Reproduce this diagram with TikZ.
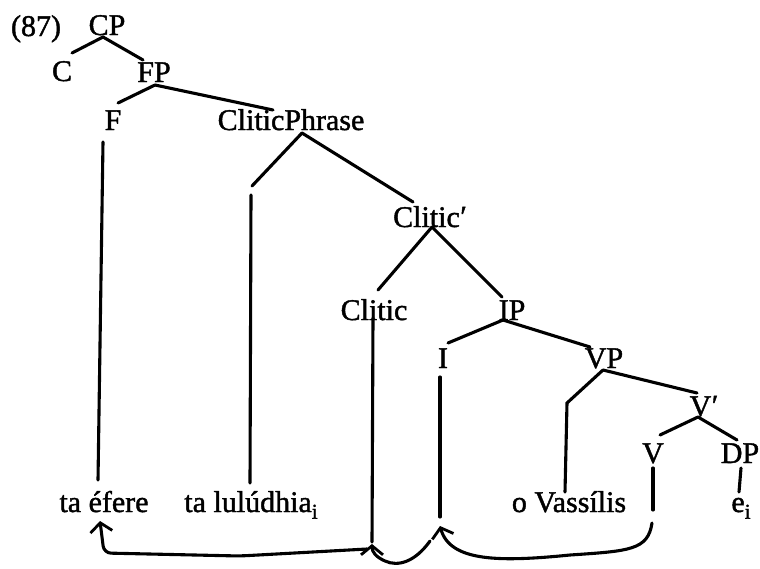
\documentclass[tikz,border=0pt]{standalone}
\usepackage{fontspec}
\setmainfont{Liberation Serif}[BoldFont={Liberation Serif},BoldFeatures={FakeBold=1.4}]
\usetikzlibrary{arrows.meta}
\newcommand{\mysubi}{\raisebox{-0.22em}{\fontsize{21}{21}\selectfont i}}
\newcommand{\myprime}{\kern0.5pt\raisebox{0.02em}{′}}
\begin{document}
\begin{tikzpicture}[x=1pt,y=-1pt,
  lbl/.style={anchor=base, inner sep=0pt, font=\fontsize{30}{34}\selectfont\bfseries},
  br/.style={line width=3.1pt, line cap=round},
  mv/.style={line width=3.1pt, line cap=round, -{Straight Barb[length=9pt,width=22pt,line width=2.8pt]}}]
\useasboundingbox (0,0) rectangle (760,568);
% labels
\node[lbl] (n87) at (36,36) {(87)};
\node[lbl] (CP) at (107,35) {CP};
\node[lbl] (C) at (62,81) {C};
\node[lbl] (FP) at (154,82) {FP};
\node[lbl] (F) at (113,130) {F};
\node[lbl] (ClP) at (291,130) {CliticPhrase};
\node[lbl] (Clb) at (430,227) {Clitic\myprime};
\node[lbl] (Cl) at (374,320) {Clitic};
\node[lbl] (IP) at (512,320) {IP};
\node[lbl] (I) at (443,368) {I};
\node[lbl] (VP) at (604,368) {VP};
\node[lbl] (Vb) at (704,416) {V\myprime};
\node[lbl] (V) at (653,463) {V};
\node[lbl] (DP) at (740,463) {DP};
\node[lbl] (w1) at (104,512) {ta éfere};
\node[lbl] (w2) at (251,512) {ta lulúdhia\mysubi};
\node[lbl] (w3) at (569,512) {o Vassílis};
\node[lbl] (w4) at (741,512) {e\mysubi};
% branch points
\coordinate (CPb) at (103,37);
\coordinate (Ct) at (72,53);
\coordinate (FPt) at (143,60);
\coordinate (FPb) at (155,85);
\coordinate (Ft) at (118,103);
\coordinate (ClPt) at (273,110);
\coordinate (ClPb) at (302,133);
\coordinate (Spt) at (252,186);
\coordinate (Clbt) at (413,202);
\coordinate (Clbb) at (432,227);
\coordinate (Clt) at (378,290);
\coordinate (IPt) at (502,297);
\coordinate (IPb) at (503,320);
\coordinate (It) at (448,343);
\coordinate (VPt) at (590,347);
\coordinate (VPb) at (603,370);
\coordinate (VSp) at (567,403);
\coordinate (VSpb) at (565,492);
\coordinate (Vbt) at (697,393);
\coordinate (Vbb) at (698,417);
\coordinate (Vt) at (660,435);
\coordinate (DPt) at (737,440);
% tree
\draw[br] (CPb) -- (Ct);
\draw[br] (CPb) -- (FPt);
\draw[br] (FPb) -- (Ft);
\draw[br] (FPb) -- (ClPt);
\draw[br] (ClPb) -- (Spt);
\draw[br] (ClPb) -- (Clbt);
\draw[br] (Clbb) -- (Clt);
\draw[br] (Clbb) -- (IPt);
\draw[br] (IPb) -- (It);
\draw[br] (IPb) -- (VPt);
\draw[br] (VPb) -- (VSp) -- (VSpb);
\draw[br] (VPb) -- (Vbt);
\draw[br] (Vbb) -- (Vt);
\draw[br] (Vbb) -- (DPt);
% vertical lines to the words
\coordinate (Fv1) at (103,142);
\coordinate (Fv2) at (98,480);
\coordinate (Sv1) at (251,195);
\coordinate (Sv2) at (250,483);
\coordinate (Clv1) at (373,318);
\coordinate (Clv2) at (372,542);
\coordinate (Iv1) at (440,377);
\coordinate (Iv2) at (440,517);
\coordinate (Vv1) at (653,468);
\coordinate (Vv2) at (653,510);
\coordinate (Dv1) at (741,468);
\coordinate (Dv2) at (739,492);
\draw[br] (Fv1) -- (Fv2);
\draw[br] (Sv1) -- (Sv2);
\draw[br] (Clv1) -- (Clv2);
\draw[br] (Iv1) -- (Iv2);
\draw[br] (Vv1) -- (Vv2);
\draw[br] (Dv1) -- (Dv2);
% movement arrows
\coordinate (a1s) at (367,549);
\coordinate (a1e) at (100,521);
\coordinate (a2s) at (430,541);
\coordinate (a2e) at (372,544);
\coordinate (a3s) at (652,523);
\coordinate (a3e) at (440,526);
\draw[mv, rounded corners=7pt] (a1s) -- (240,556) -- (104,553) -- (a1e);
\draw[mv] (a2s) .. controls (415,562) and (398,567) .. (385,561) .. controls (376,557) and (372,552) .. (a2e);
\draw[mv] (a3s) .. controls (648,550) and (630,551) .. (570,555) .. controls (500,562) and (450,562) .. (a3e);
\end{tikzpicture}
\end{document}
